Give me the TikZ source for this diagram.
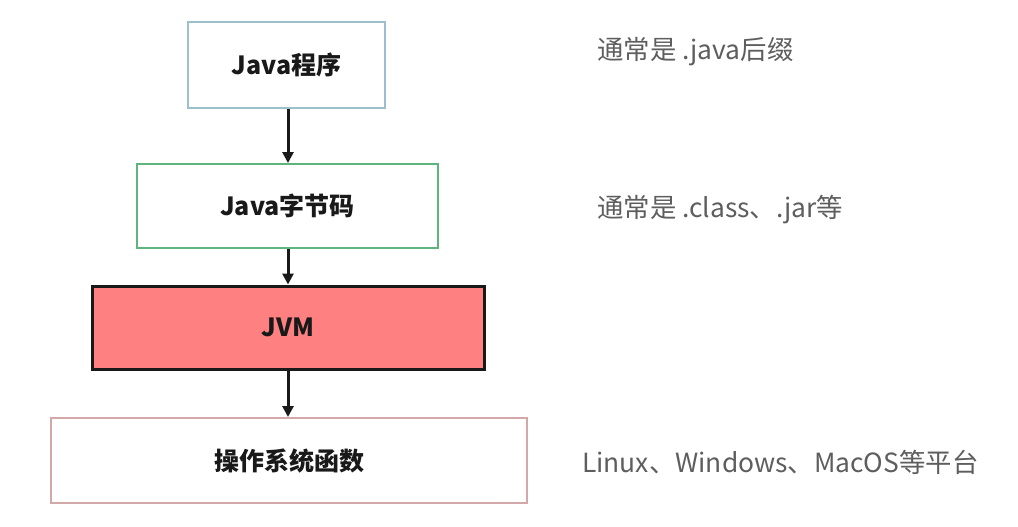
\documentclass[tikz,border=0pt]{standalone}
\usepackage{fontspec}
\setmainfont{Noto Sans CJK SC}
\usetikzlibrary{arrows.meta}
\definecolor{bluebd}{HTML}{9CBFCB}
\definecolor{greenbd}{HTML}{5DB47C}
\definecolor{jvmfill}{HTML}{FF8080}
\definecolor{osbd}{HTML}{D2A8A8}
\definecolor{labelgray}{HTML}{5E5E5E}
\begin{document}
\begin{tikzpicture}[x=1pt,y=-1pt,
  box/.style={draw, line width=2pt, inner sep=0pt, font=\fontsize{25}{29}\selectfont\bfseries, text=black!90},
  note/.style={anchor=west, inner sep=0pt, font=\fontsize{26.4}{30}\selectfont, text=labelgray},
  arr/.style={-{Triangle[length=11pt,width=11pt]}, line width=3pt, draw=black!90, fill=black!90}]
\useasboundingbox[fill=white] (0,0) rectangle (1018,527);
\node[box, draw=bluebd, minimum width=197pt, minimum height=86pt] (prog) at (286.5,65) {Java程序};
\node[box, draw=greenbd, minimum width=301pt, minimum height=84pt] (byte) at (287.5,206) {Java字节码};
\node[box, draw=black!90, fill=jvmfill, line width=3pt, minimum width=392pt, minimum height=83pt] (jvm) at (288,327.5) {JVM};
\node[box, draw=osbd, minimum width=476pt, minimum height=85pt] (os) at (289,460.5) {操作系统函数};
\node[note] (n1) at (597,52) {通常是 .java后缀};
\node[note] (n2) at (597,210) {通常是 .class、.jar等};
\node[note] (n3) at (582,462) {Linux、Windows、MacOS等平台};
\draw[arr] (prog.south -| 288,0) -- (byte.north -| 288,0);
\draw[arr] (byte.south -| 288,0) -- (jvm.north -| 288,0);
\draw[arr] (jvm.south -| 288,0) -- (os.north -| 288,0);
\end{tikzpicture}
\end{document}
